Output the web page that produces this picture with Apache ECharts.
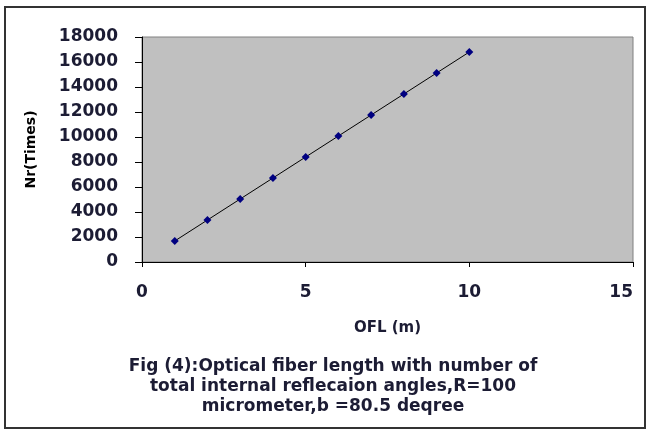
<!DOCTYPE html>
<html>
<head>
<meta charset="utf-8">
<script src="https://cdn.jsdelivr.net/npm/echarts@6/dist/echarts.min.js"></script>
<style>
  html, body { margin: 0; padding: 0; background: #fff; }
  #chart { width: 650px; height: 430px; }
</style>
</head>
<body>
<div id="chart"></div>
<script>
// fiber length (m) vs number of reflections
let lengths = [1, 2, 3, 4, 5, 6, 7, 8, 9, 10];
let reflections = [1680, 3360, 5040, 6720, 8400, 10080, 11760, 13440, 15120, 16800];
let captionLines = [
  'Fig (4):Optical fiber length with number of',
  'total internal reflecaion angles,R=100',
  'micrometer,b =80.5 deqree'
];

let txt = '#1c1c34';
let font = 'DejaVu Sans';

let option = {
  animation: false,
  textStyle: {fontFamily: font},
  title: {
    text: captionLines.join('\n'),
    left: 328,
    top: 352,
    textAlign: 'center',
    textStyle: {fontFamily: font, fontSize: 17, fontWeight: 'bold', color: txt, lineHeight: 20}
  },
  graphic: [{
    type: 'rect',
    shape: {x: 5, y: 7, width: 640, height: 421},
    style: {fill: 'none', stroke: '#333', lineWidth: 2}
  }],
  grid: {
    left: 142, right: 17, top: 37, bottom: 168,
    show: true,
    backgroundColor: '#c0c0c0',
    borderColor: '#808080',
    borderWidth: 1
  },
  xAxis: {
    type: 'value',
    min: 0, max: 15, interval: 5,
    name: 'OFL (m)',
    nameLocation: 'middle',
    nameGap: 59,
    nameTextStyle: {fontFamily: font, fontSize: 15, fontWeight: 'bold', color: txt},
    axisLine: {show: true, lineStyle: {color: '#000', width: 1}},
    axisTick: {show: true, length: 5, lineStyle: {color: '#000'}},
    axisLabel: {
      fontFamily: font, fontSize: 17, fontWeight: 'bold', color: txt, margin: 22,
      alignMaxLabel: 'right'
    },
    splitLine: {show: false}
  },
  yAxis: {
    type: 'value',
    min: 0, max: 18000, interval: 2000,
    name: 'Nr(Times)',
    nameLocation: 'middle',
    nameGap: 104,
    nameTextStyle: {fontFamily: font, fontSize: 14, fontWeight: 'bold', color: '#000'},
    axisLine: {show: true, lineStyle: {color: '#000', width: 1}},
    axisTick: {show: true, length: 7, lineStyle: {color: '#000'}},
    axisLabel: {
      fontFamily: font, fontSize: 17, fontWeight: 'bold', color: txt, margin: 24,
      formatter: function (v) {
        return String(v);
      }
    },
    splitLine: {show: false}
  },
  series: [{
    type: 'line',
    data: lengths.map(function (x, i) {
      return [x, reflections[i]];
    }),
    symbol: 'diamond',
    symbolSize: 8,
    itemStyle: {color: '#000080'},
    lineStyle: {color: '#000', width: 1}
  }]
};

let myChart = echarts.init(document.getElementById('chart'));
myChart.setOption(option);
</script>
</body>
</html>
